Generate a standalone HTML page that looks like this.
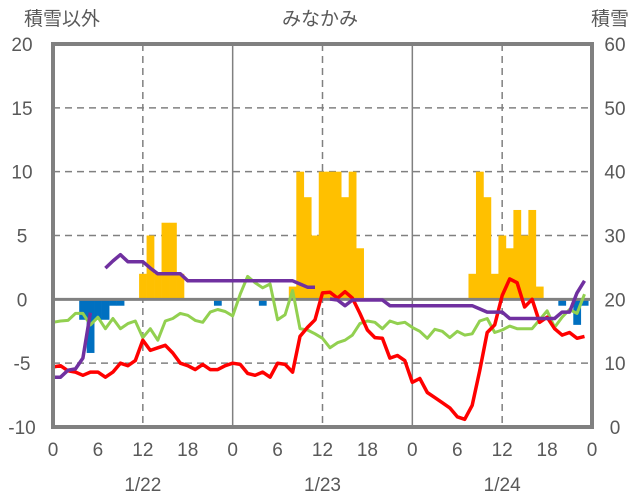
<!DOCTYPE html>
<html><head><meta charset="utf-8"><style>
html,body{margin:0;padding:0;background:#fff;}
svg{display:block;font-family:"Liberation Sans","Noto Sans CJK JP",sans-serif;}
</style></head><body>
<svg id="chart" width="636" height="501" viewBox="0 0 636 501">
<text x="62" y="25" font-size="19" fill="#595959" text-anchor="middle">積雪以外</text>
<text x="320" y="25" font-size="19" fill="#595959" text-anchor="middle">みなかみ</text>
<text x="610" y="25" font-size="19" fill="#595959" text-anchor="middle">積雪</text>
<g id="grid"></g><g id="bars"></g><g id="lines"></g><g id="axes"></g>
</svg>
<script>
const hourLabels=["0","6","12","18","0","6","12","18","0","6","12","18","0"];
const dateLabels=["1/22","1/23","1/24"];
const leftTicks=[20,15,10,5,0,-5,-10];
const rightTicks=[60,50,40,30,20,10,0];
const snowfall=[[12,2],[13,5],[14,2],[15,6],[16,6],[17,2],[32,1],[33,10],[34,8],[35,5],[36,10],[37,10],[38,10],[39,8],[40,10],[41,4],[56,2],[57,10],[58,8],[59,2],[60,5],[61,4],[62,7],[63,5],[64,7],[65,1]];
const negBars=[[4,-1.6],[5,-4.2],[6,-1.6],[7,-1.6],[8,-0.5],[9,-0.5],[22,-0.5],[28,-0.5],[68,-0.5],[70,-2],[71,-0.5]];
const redTemp=[-5.3,-5.2,-5.6,-5.7,-5.95,-5.7,-5.7,-6.1,-5.7,-5.0,-5.2,-4.8,-3.2,-4.0,-3.8,-3.6,-4.2,-5.0,-5.2,-5.5,-5.1,-5.5,-5.5,-5.2,-5.0,-5.1,-5.8,-5.95,-5.7,-6.1,-5.0,-5.1,-5.7,-2.9,-2.2,-1.6,0.5,0.55,0.1,0.6,0.1,-1.1,-2.4,-3.0,-3.05,-4.6,-4.4,-4.8,-6.5,-6.2,-7.3,-7.7,-8.1,-8.5,-9.2,-9.4,-8.3,-5.6,-2.6,-2.0,0.3,1.6,1.3,-0.6,0.0,-1.8,-1.4,-2.3,-2.8,-2.6,-3.05,-2.9];
const greenSeries=[-1.8,-1.7,-1.65,-1.1,-1.1,-2.0,-1.4,-2.3,-1.5,-2.3,-1.9,-1.7,-3.0,-2.3,-3.2,-1.7,-1.5,-1.1,-1.25,-1.65,-1.8,-1.0,-0.8,-0.95,-1.3,0.4,1.8,1.3,0.9,1.2,-1.6,-1.2,0.7,-2.3,-2.4,-2.7,-3.05,-3.8,-3.4,-3.2,-2.8,-1.9,-1.7,-1.8,-2.3,-1.7,-1.9,-1.8,-2.2,-2.5,-3.05,-2.35,-2.5,-3.0,-2.5,-2.8,-2.7,-1.7,-1.5,-2.6,-2.4,-2.1,-2.3,-2.3,-2.3,-1.6,-0.9,-2.2,-1.4,-0.8,-1.1,0.4];
const snowDepth=[7.8,7.8,8.9,9.1,10.8,17.9,null,24.9,26,27,25.9,25.9,25.9,24.9,24,24,24,24,22.9,22.9,22.9,22.9,22.9,22.9,22.9,22.9,22.9,22.9,22.9,22.9,22.9,22.9,22.9,22.4,21.9,21.9,null,20.05,19.9,19,19.9,19.9,19.9,19.9,19.9,19,19,19,19,19,19,19,19,19,19,19,19,18.5,18,18,18,17,17,17,17,17,17,17,18,18,21,22.9];

const L=53,R=592,T=44,B=427,HOURS=72;
const xh=h=>L+h*(R-L)/HOURS;
const yl=v=>T+(20-v)*(B-T)/30;
const yr=v=>T+(60-v)*(B-T)/60;
const NS="http://www.w3.org/2000/svg";
function mk(p,tag,a){const e=document.createElementNS(NS,tag);for(const k in a)e.setAttribute(k,a[k]);document.getElementById(p).appendChild(e);return e;}
const bw=(R-L)/HOURS;
[15,10,5,-5].forEach(v=>{const e=mk('grid','line',{x1:L,x2:R,y1:yl(v),y2:yl(v),stroke:'#808080','stroke-width':1.5,'stroke-dasharray':'7,5'});

});
[12,36,60].forEach(h=>{const e=mk('grid','line',{x1:xh(h),x2:xh(h),y1:T,y2:B,stroke:'#808080','stroke-width':1.5,'stroke-dasharray':'7,5'});

});
[24,48].forEach(h=>{const e=mk('grid','line',{x1:xh(h),x2:xh(h),y1:T,y2:B,stroke:'#808080','stroke-width':1.5});

});
snowfall.forEach(d=>{const e=mk('bars','rect',{x:xh(d[0])-bw/2,y:yl(d[1]),width:bw+0.3,height:yl(0)-yl(d[1]),fill:'#FFC000'});

});
negBars.forEach(d=>{const e=mk('bars','rect',{x:xh(d[0])-bw/2,y:yl(0),width:bw+0.3,height:yl(d[1])-yl(0),fill:'#0070C0'});

});
const z=mk('bars','line',{x1:L,x2:R,y1:yl(0),y2:yl(0),stroke:'#808080','stroke-width':3});


function path(arr,fy){let d='',pen=false;arr.forEach((v,i)=>{if(v===null){pen=false;return;}d+=(pen?'L':'M')+xh(i).toFixed(1)+','+fy(v).toFixed(1);pen=true;});return d;}
const g=mk('lines','path',{d:path(greenSeries,yl),fill:'none',stroke:'#92D050','stroke-width':3,'stroke-linejoin':'round'});


const r=mk('lines','path',{d:path(redTemp,yl),fill:'none',stroke:'#FF0000','stroke-width':3.5,'stroke-linejoin':'round'});


const p=mk('lines','path',{d:path(snowDepth,yr),fill:'none',stroke:'#7030A0','stroke-width':3.5,'stroke-linejoin':'round'});


const f=mk('axes','rect',{x:L,y:T,width:R-L,height:B-T,fill:'none',stroke:'#808080','stroke-width':4});


leftTicks.forEach(v=>{const t=mk('axes','text',{x:22,y:yl(v)+7,'font-size':19,fill:'#595959','text-anchor':'middle'});t.textContent=v;

});
rightTicks.forEach(v=>{const t=mk('axes','text',{x:615,y:yr(v)+7,'font-size':19,fill:'#595959','text-anchor':'middle'});t.textContent=v;

});
hourLabels.forEach((s,i)=>{const t=mk('axes','text',{x:xh(i*6),y:456,'font-size':19,fill:'#595959','text-anchor':'middle'});t.textContent=s;

});
dateLabels.forEach((s,i)=>{const t=mk('axes','text',{x:xh(12+i*24),y:491,'font-size':19,fill:'#595959','text-anchor':'middle'});t.textContent=s;

});
</script>
</body></html>
